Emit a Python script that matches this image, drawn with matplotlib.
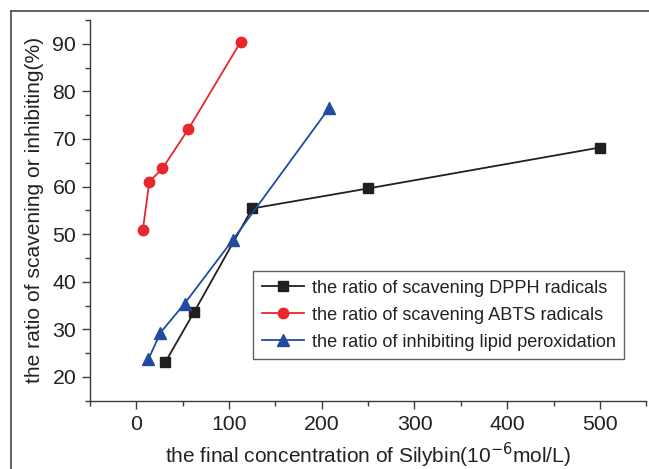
import matplotlib
matplotlib.use("Agg")
import matplotlib.pyplot as plt
from matplotlib.ticker import MultipleLocator
from matplotlib.lines import Line2D

plt.rcParams['font.family'] = ['Liberation Sans', 'DejaVu Sans']

# -- data
dpph_x = [31.25, 62.5, 125, 250, 500]
dpph_y = [23.1, 33.7, 55.4, 59.6, 68.2]
abts_x = [7.0, 14.0, 28.1, 56.2, 112.5]
abts_y = [50.9, 61.0, 63.8, 72.1, 90.4]
lipid_x = [13, 26, 52, 104, 208]
lipid_y = [23.7, 29.3, 35.4, 48.8, 76.5]
labels = ['the ratio of scavening DPPH radicals',
          'the ratio of scavening ABTS radicals',
          'the ratio of inhibiting lipid peroxidation']

black = '#231f20'
red = '#e8262d'
blue = '#1f4c9e'
axis_c = '#3a3a3a'

fig = plt.figure(figsize=(6.49, 4.69), dpi=100)
ax = fig.add_axes([0.1387, 0.1456, 0.857, 0.8118])

ax.plot(dpph_x, dpph_y, color=black, lw=1.3, marker='s', ms=6.5, label=labels[0])
ax.plot(abts_x, abts_y, color=red, lw=1.3, marker='o', ms=7.5, label=labels[1])
ax.plot(lipid_x, lipid_y, color=blue, lw=1.3, marker='^', ms=9, label=labels[2])

ax.set_xlim(-50, 550)
ax.set_ylim(15, 95)
ax.xaxis.set_major_locator(MultipleLocator(100))
ax.xaxis.set_minor_locator(MultipleLocator(50))
ax.yaxis.set_major_locator(MultipleLocator(10))
ax.yaxis.set_minor_locator(MultipleLocator(5))

for s in ['top', 'right']:
    ax.spines[s].set_visible(False)
for s in ['left', 'bottom']:
    ax.spines[s].set_color(axis_c)
    ax.spines[s].set_linewidth(1.0)

ax.tick_params(which='major', direction='out', length=6, width=1.0,
               color=axis_c, labelsize=15.3, labelcolor='#222222', pad=4)
ax.tick_params(which='minor', direction='out', length=3.5, width=1.0, color=axis_c)
# x tick labels only at 0..500
ax.set_xticks([0, 100, 200, 300, 400, 500])

ax.set_xlabel('the final concentration of Silybin(10$^{-6}$mol/L)', fontsize=15,
              color='#222222', labelpad=5)
ax.set_ylabel('the ratio of scavening or inhibiting(%)', fontsize=15.1,
              color='#222222', labelpad=6)

leg = ax.legend(loc='lower left', bbox_to_anchor=(0.390, 0.234),
                bbox_transform=fig.transFigure, borderaxespad=0,
                fontsize=13.1, frameon=True, fancybox=False,
                handlelength=2.3, handletextpad=0.45, labelspacing=0.55,
                borderpad=0.47)
leg.get_frame().set_edgecolor(axis_c)
leg.get_frame().set_linewidth(1.0)
for t in leg.get_texts():
    t.set_color('#222222')

# figure frame on top and left
fig.add_artist(Line2D([11 / 649, 1], [1 - 11 / 469, 1 - 11 / 469],
                      transform=fig.transFigure, color='#555555', lw=1.3))
fig.add_artist(Line2D([11 / 649, 11 / 649], [0, 1 - 11 / 469],
                      transform=fig.transFigure, color='#555555', lw=1.3))

fig.savefig('out.png', dpi=100)
